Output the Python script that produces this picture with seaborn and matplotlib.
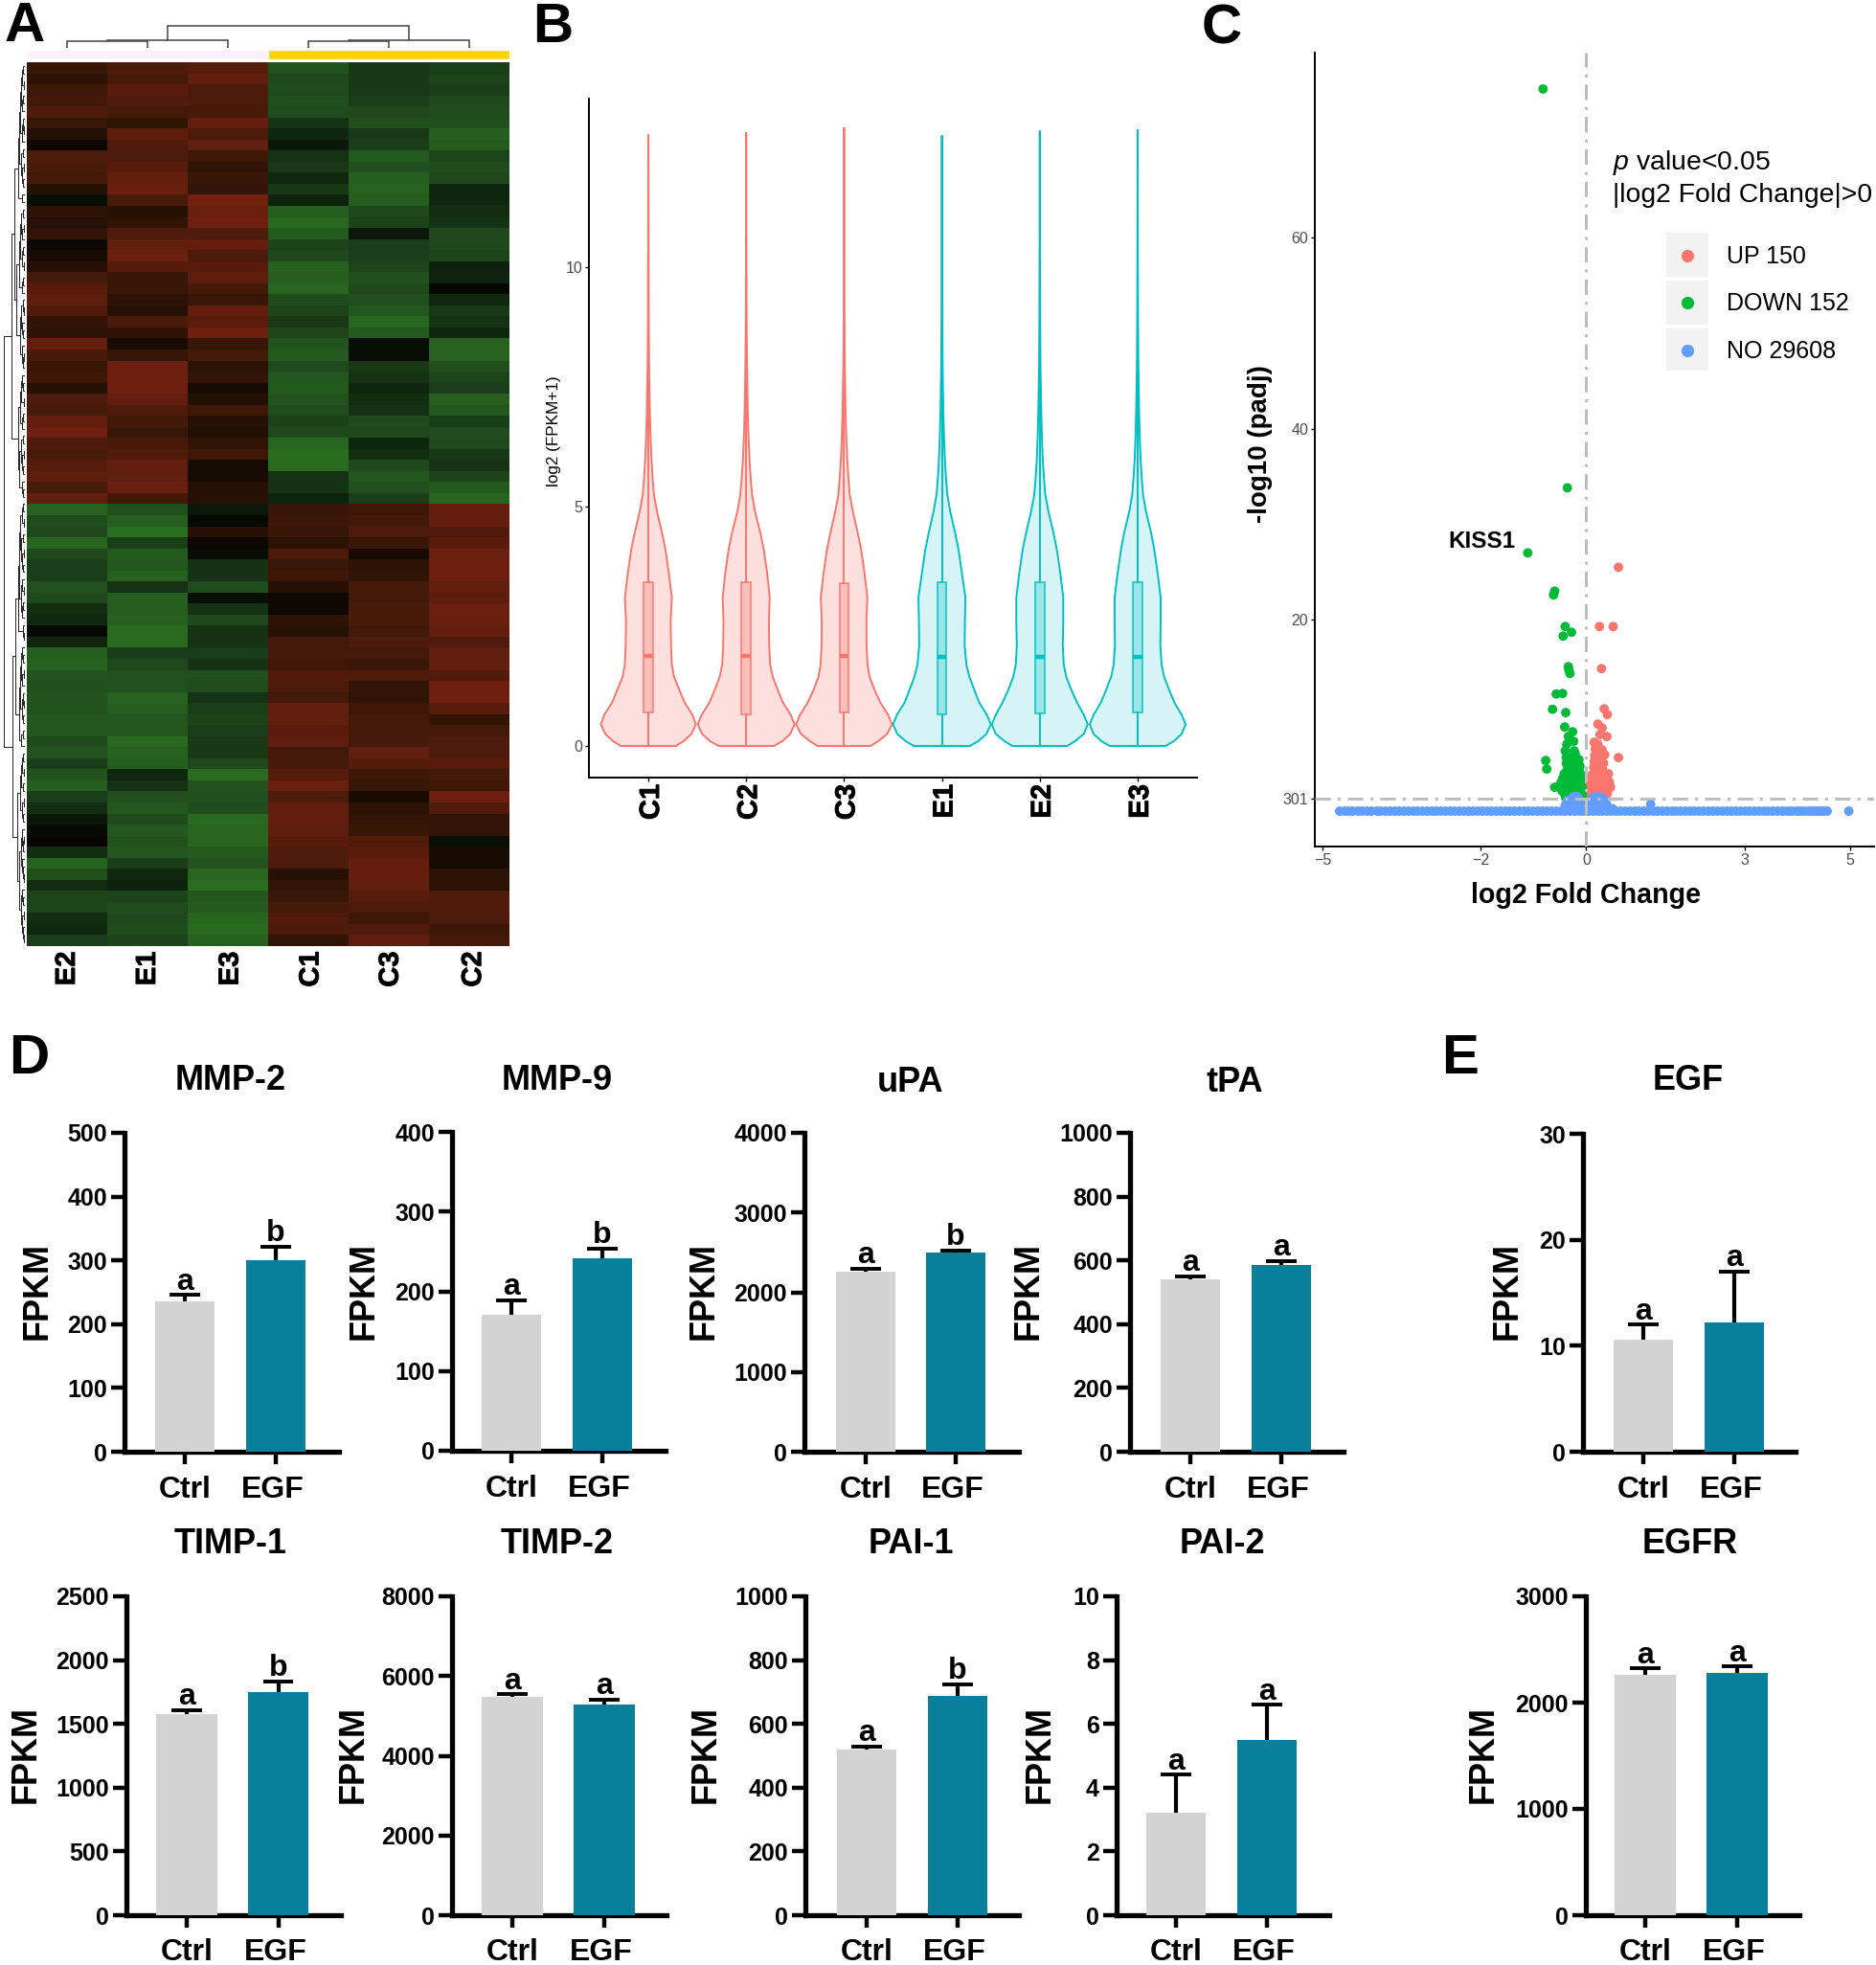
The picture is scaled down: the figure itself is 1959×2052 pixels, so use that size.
import numpy as np
import pandas as pd
import matplotlib
matplotlib.use("Agg")
import matplotlib.pyplot as plt
import matplotlib.patheffects as pe
from matplotlib.colors import LinearSegmentedColormap
from matplotlib.patches import Rectangle
from matplotlib.transforms import ScaledTranslation
import seaborn as sns

sns.set_style("ticks")
plt.rcParams['font.family'] = ['Liberation Sans', 'DejaVu Sans']
plt.rcParams['mathtext.fontset'] = 'custom'
plt.rcParams['mathtext.it'] = 'Liberation Sans:italic'
plt.rcParams['mathtext.rm'] = 'Liberation Sans'
plt.rcParams['text.color'] = 'black'
plt.rcParams['xtick.color'] = 'black'
plt.rcParams['ytick.color'] = 'black'
plt.rcParams['axes.labelcolor'] = 'black'

W, H = 1959, 2052

# ---------- Panel A data (red = up, green = down) ----------
heat_E2 = [.35,.25,.4,.45,.6,.35,.2,.05,.55,.5,.45,.2,-.05,.25,.2,.3,.05,.1,.2,.45,.7,.75,.6,.3,.25,.85,.5,.35,.4,.2,.55,.5,.8,.95,.55,.5,.65,.75,.5,.8,
           -.85,-.55,-.5,-.9,-.5,-.4,-.4,-.6,-.5,-.25,-.2,-.03,-.2,-.8,-.85,-.65,-.6,-.65,-.65,-.7,-.7,-.55,-.65,-.4,-.65,-.8,-.4,-.25,-.1,-.03,.02,-.25,-.85,-.6,-.25,-.45,-.45,-.25,-.2,-.4]
heat_E1 = [.55,.5,.7,.6,.45,.3,.75,.6,.55,.7,.8,.9,.5,.2,.3,.6,.8,.9,.65,.35,.35,.25,.2,.5,.25,.1,.35,.95,.95,.95,.8,.6,.45,.35,.5,.6,.8,.8,.9,.45,
           -.6,-.8,-1.0,-.4,-.75,-.7,-.85,-.3,-.8,-.8,-.85,-.95,-.95,-.4,-.5,-.6,-.6,-.85,-.8,-.7,-.7,-.95,-.85,-.8,-.2,-.3,-.6,-.7,-.55,-.7,-.65,-.7,-.4,-.2,-.15,-.45,-.55,-.5,-.55,-.45]
heat_E3 = [.65,.8,.55,.55,.5,.85,.55,.8,.4,.3,.35,.3,1.0,.9,.95,.55,.85,.55,.7,.75,.45,.35,.85,.7,.95,.35,.45,.25,.3,.1,.15,.4,.2,.15,.3,.4,.1,.1,.2,.2,
           -.1,-.03,.2,.05,-.05,-.3,-.3,-.55,-.05,-.3,-.5,-.3,-.3,-.4,-.3,-.6,-.55,-.3,-.4,-.45,-.4,-.35,-.35,-.5,-.95,-.65,-.6,-.55,-.95,-.9,-.9,-.75,-.65,-.9,-1.0,-.7,-.75,-.9,-.95,-.85]
heat_C1 = [-.65,-.5,-.55,-.6,-.55,-.3,-.2,-.1,-.3,-.35,-.2,-.35,-.15,-.8,-.95,-.75,-.45,-.5,-.85,-.8,-.9,-.55,-.45,-.35,-.45,-.65,-.75,-.5,-.7,-.75,-.65,-.55,-.45,-.5,-.9,-1.0,-.95,-.3,-.3,-.15,
           .35,.4,.35,.25,.55,.35,.4,.2,.05,.05,.25,.2,.45,.45,.4,.6,.55,.45,.8,.8,.7,.75,.45,.5,.65,.9,.55,.8,.85,.75,.7,.6,.55,.2,.3,.35,.5,.6,.55,.3]
heat_C3 = [-.35,-.35,-.35,-.4,-.5,-.6,-.35,-.4,-.75,-.6,-.8,-.85,-.8,-.5,-.45,-.1,-.4,-.4,-.45,-.6,-.5,-.6,-.7,-.9,-.75,-.05,-.05,-.35,-.3,-.2,-.25,-.3,-.55,-.5,-.2,-.25,-.5,-.7,-.6,-.4,
           .4,.45,.55,.35,.1,.25,.3,.45,.45,.5,.5,.45,.55,.45,.35,.6,.3,.3,.4,.45,.45,.45,.8,.65,.4,.35,.1,.25,.3,.35,.6,.7,.85,.85,.8,.7,.55,.4,.6,.75]
heat_C2 = [-.4,-.45,-.4,-.5,-.55,-.6,-.8,-.75,-.45,-.55,-.5,-.2,-.2,-.25,-.3,-.5,-.5,-.45,-.15,-.15,-.02,-.2,-.35,-.3,-.2,-.85,-.85,-.6,-.45,-.4,-.8,-.7,-.4,-.55,-.5,-.35,-.3,-.45,-.75,-.9,
           .85,.85,.6,.7,.9,.95,.95,.8,.75,.9,.9,.85,.55,.8,.8,.6,.95,.95,.7,.3,.45,.55,.55,.7,.45,.4,.95,.6,.3,.3,-.05,.1,.1,.25,.25,.6,.6,.55,.4,.45]
heat_cols = ["E2", "E1", "E3", "C1", "C3", "C2"]
# merge heights between neighbouring row leaves, read from the left-hand tree
row_gaps = [2,3,1,4,2,3,5,2,1,3,6,2,4,1,3,2,7,3,11,2,4,1,3,5,2,3,1,6,2,3,9,2,1,4,3,2,5,3,1,2,14,
            3,2,4,1,5,2,3,7,2,4,1,3,2,6,3,2,
            22.5,
            2,3,1,5,2,4,1,3,2,6,3,1,4,2,3,7,2,1,10,3,2,4,1,3,5,2,1,3,2,6,2,4,13,
            2,3,1,4,2,5,1,3,2,8,3,1,2,4,3,2,1,6,3,2,4,1,3,2,1]
col_merge_heights = [7, 8.3, 7, 7.7, 23]

# ---------- Panel B data ----------
violin_names = ["C1", "C2", "C3", "E1", "E2", "E3"]
violin_y = [0,.1,.25,.45,.65,.91,1.18,1.45,1.7,2.1,2.6,3.1,3.6,4.1,4.45,4.9,5.25,5.58,6,6.5,7,8,9,10.5]
violin_top = [12.75, 12.8, 12.9, 12.74, 12.84, 12.86]
width_C1 = [.28,.36,.44,.485,.45,.37,.315,.262,.24,.232,.228,.24,.21,.175,.14,.088,.057,.044,.032,.022,.015,.007,.004,.002]
width_C2 = [.28,.37,.45,.495,.455,.375,.32,.27,.245,.235,.232,.24,.215,.18,.145,.09,.06,.046,.033,.023,.016,.008,.004,.002]
width_C3 = [.27,.35,.44,.49,.45,.37,.31,.26,.24,.23,.228,.238,.21,.175,.14,.09,.058,.045,.032,.022,.015,.007,.004,.002]
width_E1 = [.285,.37,.455,.50,.46,.38,.33,.28,.25,.232,.235,.24,.205,.17,.135,.085,.055,.042,.03,.021,.014,.007,.004,.002]
width_E2 = [.28,.36,.45,.49,.45,.38,.32,.27,.245,.235,.24,.24,.21,.175,.14,.088,.056,.043,.03,.021,.015,.007,.004,.002]
width_E3 = [.285,.37,.45,.49,.45,.375,.32,.27,.245,.232,.235,.235,.205,.17,.138,.085,.055,.043,.03,.021,.015,.007,.004,.002]
box_q1 = [.69, .66, .69, .66, .68, .69]
box_med = [1.88, 1.87, 1.87, 1.85, 1.85, 1.85]
box_q3 = [3.41, 3.41, 3.40, 3.42, 3.42, 3.42]

# ---------- Panel C data ----------
down_x = [-0.82,-0.36,-1.11,-0.60,-0.62,-0.40,-0.28,-0.44,-0.34,-0.33,-0.31,-0.57,-0.45,-0.64,-0.39,-0.41,-0.26,-0.34,-0.24,-0.37,-0.40,-0.23,-0.21,-0.38,-0.77,-0.75,-0.60,
          -0.30,-0.25,-0.18,-0.14,
          -0.38,-0.33,-0.27,-0.20,-0.15,-0.12,
          -0.36,-0.31,-0.24,-0.19,-0.13,
          -0.42,-0.37,-0.29,-0.22,-0.17,-0.10,
          -0.45,-0.40,-0.34,-0.26,-0.20,-0.14,-0.09,
          -0.48,-0.42,-0.35,-0.28,-0.21,-0.16,-0.11,
          -0.50,-0.44,-0.37,-0.30,-0.23,-0.17,-0.12,-0.08,
          -0.46,-0.39,-0.32,-0.25,-0.18,-0.13,-0.09,
          -0.40,-0.33,-0.26,-0.19,-0.12,-0.07,
          -0.39,-0.30,-0.22,-0.15,-0.09]
down_y = [75.5,33.8,27.0,23.0,22.6,19.3,18.7,18.3,15.1,14.76,14.4,12.25,12.3,10.65,10.3,8.8,8.3,7.8,7.3,7.0,6.3,6.3,6.0,5.6,5.3,4.4,2.5,
          5.6,5.5,5.3,5.4,
          5.0,4.9,5.1,4.8,5.0,4.7,
          4.4,4.5,4.3,4.4,4.2,
          3.9,4.0,3.8,3.9,3.7,3.8,
          3.4,3.5,3.3,3.4,3.5,3.3,3.4,
          3.0,2.9,3.0,2.8,3.0,2.9,2.8,
          2.5,2.6,2.4,2.6,2.5,2.4,2.6,2.5,
          2.1,2.0,2.2,2.1,2.0,2.1,1.9,
          1.7,1.6,1.8,1.7,1.6,1.7,
          1.4,1.4,1.4,1.4,1.4]
up_x = [0.61,0.25,0.51,0.29,0.34,0.40,0.22,0.30,0.39,0.26,0.15,0.22,0.61,
        0.17,0.24,0.30,
        0.16,0.21,0.28,0.35,
        0.15,0.20,0.27,0.33,
        0.14,0.19,0.25,0.31,
        0.11,0.17,0.23,0.30,0.38,0.42,
        0.07,0.13,0.20,0.27,0.34,0.41,0.44,
        0.05,0.10,0.16,0.23,0.29,0.36,0.43,0.46,
        0.04,0.09,0.15,0.21,0.28,0.34,0.40,
        0.06,0.12,0.19,0.26,0.33,0.38]
up_y = [25.5,19.3,19.3,14.9,10.7,10.1,9.1,8.7,7.8,8.0,7.2,7.0,5.6,
        6.5,6.3,6.4,
        5.8,5.6,5.7,5.9,
        5.2,5.1,5.3,5.0,
        4.6,4.5,4.7,4.4,
        3.8,3.7,3.9,3.8,3.7,3.9,
        3.2,3.3,3.2,3.1,3.3,3.2,3.0,
        2.6,2.7,2.6,2.5,2.7,2.6,2.7,2.5,
        2.0,2.1,2.0,2.2,2.0,2.1,1.9,
        1.5,1.6,1.5,1.6,1.5,1.5]
no_x = [-4.68,-4.59,-4.52,-4.44,-4.33,-4.25,-4.16,-4.08,-3.97,-3.9,-3.81,-3.72,-3.63,-3.55,-3.46,-3.37,-3.28,-3.2,-3.11,-3.02,
        -2.93,-2.85,-2.76,-2.67,-2.58,-2.5,-2.41,-2.32,-2.23,-2.15,-2.06,-1.97,-1.88,-1.8,-1.71,-1.62,-1.53,-1.45,-1.36,-1.27,
        -1.18,-1.1,-1.01,-.92,-.83,-.75,-.66,-.57,-.48,-.4,-.31,-.22,-.13,-.05,.04,.13,.22,.3,.39,.48,.57,.65,.74,.83,.92,1.0,
        1.09,1.18,1.27,1.35,1.44,1.53,1.62,1.7,1.79,1.88,1.97,2.05,2.14,2.23,2.32,2.4,2.49,2.58,2.67,2.75,2.84,2.93,3.02,3.1,
        3.19,3.28,3.37,3.45,3.54,3.63,3.72,3.8,3.86,3.91,4.0,4.06,4.13,4.21,4.27,4.33,4.38,4.42,4.46,4.51,4.57,4.98]
no_y = [0.0] * len(no_x)
cluster_x = [-.40,-.34,-.28,-.22,-.16,-.10,-.37,-.3,-.24,-.18,-.12,-.33,-.27,-.2,-.14,.06,.12,.18,.24,.3,.36,.09,.15,.21,.27,.33,.12,.18,.24,.3,1.22,.5,
             -.36,-.31,-.26,-.2,-.15,-.25,-.19,.1,.16,.21,.27,.33,.38]
cluster_y = [.6,.9,1.0,1.3,1.2,.9,.3,.4,.6,.7,.4,.1,.2,.3,.1,1.0,1.3,1.25,1.2,.9,.4,.6,.7,.8,.6,.2,.2,.3,.2,.1,.73,.25,
             1.1,1.2,1.35,1.5,1.4,1.5,1.55,1.3,1.45,1.5,1.45,1.25,.8]

# ---------- Panels D/E data ----------
genes = ["MMP-2", "MMP-9", "uPA", "tPA", "TIMP-1", "TIMP-2", "PAI-1", "PAI-2", "EGF", "EGFR"]
groups = ["Ctrl", "EGF"]
ctrl_means = [235, 171, 2260, 540, 1580, 5480, 520, 3.2, 10.6, 2265]
egf_means = [301, 241, 2500, 586, 1750, 5290, 687, 5.5, 12.2, 2280]
ctrl_tops = [246, 189, 2295, 550, 1610, 5540, 530, 4.4, 12.0, 2320]
egf_tops = [322, 254, 2525, 598, 1835, 5410, 725, 6.6, 17.0, 2340]
y_maxes = [500, 400, 4000, 1000, 2500, 8000, 1000, 10, 30, 3000]
y_steps = [100, 100, 1000, 200, 500, 2000, 200, 2, 10, 1000]
ctrl_letters = ["a", "a", "a", "a", "a", "a", "a", "a", "a", "a"]
egf_letters = ["b", "b", "b", "a", "b", "a", "b", "a", "a", "a"]

# ---------- layout (pixels) ----------
fig = plt.figure(figsize=(W / 100, H / 100), dpi=100, facecolor="white")
px = fig.dpi_scale_trans


def axpx(l, t, r, b):
    return fig.add_axes([l / W, 1 - b / H, (r - l) / W, (b - t) / H])


def shift_label(lab, dx):
    lab.set_transform(lab.get_transform() + ScaledTranslation(dx / 100, 0, px))


heavy = [pe.withStroke(linewidth=0.6, foreground="black")]

# Panel A --------------------------------------------------
heat_map = LinearSegmentedColormap.from_list(
    "gbr", [(0, "#2A6C20"), (0.25, "#1F481D"), (0.425, "#0E220D"), (0.5, "#050302"),
            (0.575, "#221005"), (0.75, "#481A0A"), (1, "#722010")])
heat_df = pd.DataFrame({"E2": heat_E2, "E1": heat_E1, "E3": heat_E3,
                        "C1": heat_C1, "C3": heat_C3, "C2": heat_C2})[heat_cols]
axA = axpx(28, 65, 532, 988)
sns.heatmap(heat_df, ax=axA, cmap=heat_map, vmin=-1, vmax=1, cbar=False,
            yticklabels=False, xticklabels=True)
axA.set_xticks([.5, 1.5, 2.53, 3.53, 4.52, 5.55])
axA.set_xticklabels(heat_cols, rotation=90, fontweight="bold", fontsize=21)
axA.tick_params(axis="x", length=0, pad=4)
for t in axA.get_xticklabels():
    t.set_path_effects(heavy)
axA.set_xlabel("")
axA.set_ylabel("")

axStrip = axpx(28, 52, 532, 62)
axStrip.axis("off")
axStrip.set_xlim(0, 6)
axStrip.set_ylim(0, 1)
axStrip.barh([0.5], [3], left=[0], height=1, color="#FDF0FB")
axStrip.barh([0.5], [3], left=[3], height=1, color="#FFD300")

axCD = axpx(28, 20, 532, 50)
axCD.axis("off")
axCD.set_xlim(0, 6)
axCD.set_ylim(0, 30)


def col_link(x0, h0, x1, h1, h):
    axCD.plot([x0, x0, x1, x1], [h0, h, h, h1], color="#444444", lw=1.1, solid_joinstyle="miter")
    return (x0 + x1) / 2


m1 = col_link(0.5, 0, 1.5, 0, col_merge_heights[0])
m2 = col_link(m1, col_merge_heights[0], 2.5, 0, col_merge_heights[1])
m3 = col_link(3.5, 0, 4.5, 0, col_merge_heights[2])
m4 = col_link(m3, col_merge_heights[2], 5.5, 0, col_merge_heights[3])
col_link(m2, col_merge_heights[1], m4, col_merge_heights[3], col_merge_heights[4])

axRD = axpx(0, 65, 26, 988)
axRD.axis("off")
axRD.set_xlim(26, 0)
axRD.set_ylim(len(row_gaps) + 1, 0)


def row_link(lo, hi):
    if lo == hi:
        return lo + 0.5, 0.0
    k = lo + int(np.argmax(row_gaps[lo:hi]))
    y0, h0 = row_link(lo, k)
    y1, h1 = row_link(k + 1, hi)
    h = row_gaps[k]
    axRD.plot([h0, h, h, h1], [y0, y0, y1, y1], color="#222222", lw=0.7)
    return (y0 + y1) / 2, h


row_link(0, len(row_gaps))

# Panel B --------------------------------------------------
axB = axpx(615, 103, 1250, 812)
violin_widths = [width_C1, width_C2, width_C3, width_E1, width_E2, width_E3]
for i, name in enumerate(violin_names):
    is_c = name.startswith("C")
    col = "#F8766D" if is_c else "#00BFC4"
    ys = np.array(violin_y + [violin_top[i]])
    ws = np.array(violin_widths[i] + [0.0008])
    axB.fill_betweenx(ys, i - ws, i + ws, color=col, alpha=0.22 if is_c else 0.16, lw=0)
    xs = np.r_[i - ws[::-1], i + ws]
    axB.plot(xs, np.r_[ys[::-1], ys], color=col, lw=1.4, solid_joinstyle="round")
    axB.plot([i - ws[0], i + ws[0]], [0, 0], color=col, lw=1.4)
    axB.plot([i, i], [0, box_q1[i]], color=col, lw=1.4)
    axB.plot([i, i], [box_q3[i], violin_top[i]], color=col, lw=1.4)
    axB.bar([i], [box_q3[i] - box_q1[i]], bottom=[box_q1[i]], width=0.096,
            color=col, alpha=0.3 if is_c else 0.28, lw=0, zorder=3)
    axB.bar([i], [box_q3[i] - box_q1[i]], bottom=[box_q1[i]], width=0.096,
            facecolor="none", edgecolor=col, lw=1.3, alpha=0.8, zorder=4)
    axB.plot([i - 0.048, i + 0.048], [box_med[i]] * 2, color=col, lw=3.2,
             solid_capstyle="butt", zorder=4)
axB.set_xlim(-0.607, 5.607)
axB.set_ylim(-0.66, 13.52)
axB.set_xticks(range(6))
axB.set_xticklabels(violin_names, rotation=90, fontweight="bold", fontsize=21, color="black")
axB.set_yticks([0, 5, 10])
axB.tick_params(axis="y", labelsize=11.5, labelcolor="#4D4D4D", length=3, width=1, pad=2)
axB.tick_params(axis="x", length=3, width=1, pad=2)
for t in axB.get_xticklabels():
    t.set_path_effects(heavy)
    shift_label(t, 3)
for s in ["left", "bottom"]:
    axB.spines[s].set_linewidth(1.4)
    axB.spines[s].set_color("black")
sns.despine(ax=axB)

# Panel C --------------------------------------------------
axC = axpx(1373, 55, 1957, 884)
volcano = pd.DataFrame({
    "log2fc": up_x + down_x + no_x + cluster_x,
    "padj": up_y + down_y + no_y + cluster_y,
    "group": ["UP"] * len(up_x) + ["DOWN"] * len(down_x) + ["NO"] * (len(no_x) + len(cluster_x)),
})
volcano_palette = {"UP": "#F8766D", "DOWN": "#00BA38", "NO": "#619CFF"}
sns.scatterplot(data=volcano, x="log2fc", y="padj", hue="group", palette=volcano_palette,
                ax=axC, s=50, linewidth=0, legend=False, clip_on=False)
dash = (0, (5.3, 2.4, 1, 2.4))
axC.axhline(1.301, color="#BEBEBE", lw=2.2, ls=dash, zorder=5)
axC.axvline(0, color="#BEBEBE", lw=2.2, ls=dash, zorder=5)
axC.set_xlim(-5.15, 5.46)
axC.set_ylim(-3.7, 79.3)
axC.set_xticks([-5, -2, 0, 3, 5])
axC.set_yticks([1.301, 20, 40, 60])
axC.set_yticklabels(["301", "20", "40", "60"])
axC.tick_params(labelsize=11.5, labelcolor="#4D4D4D", length=3, width=1, pad=2)
axC.set_xlabel("")
axC.set_ylabel("")
for s in ["left", "bottom"]:
    axC.spines[s].set_linewidth(1.4)
    axC.spines[s].set_color("black")
sns.despine(ax=axC)

# Panels D / E ---------------------------------------------
# left spine, right end, top, bottom, two category centres
bar_layout = [
    (130, 354, 1183, 1516, 193, 288),
    (472, 695, 1182, 1515, 534, 629),
    (840, 1064, 1183, 1516, 904, 998),
    (1180, 1403, 1183, 1516, 1243, 1338),
    (132, 356, 1667, 2000, 195, 290.5),
    (472, 696, 1667, 2000, 535, 631),
    (841, 1064, 1667, 2000, 905, 1000),
    (1166, 1388, 1667, 2000, 1228, 1323),
    (1653, 1875, 1184, 1516, 1716, 1811),
    (1656, 1879, 1667, 2000, 1718, 1814),
]
for i, gene in enumerate(genes):
    l, r, t, b, c0, c1 = bar_layout[i]
    ax = axpx(l, t, r, b)
    df = pd.DataFrame({"group": groups, "fpkm": [ctrl_means[i], egf_means[i]]})
    sns.barplot(data=df, x="group", y="fpkm", hue="group", order=groups, hue_order=groups,
                palette={"Ctrl": "#D3D3D3", "EGF": "#087F9B"}, width=0.66, errorbar=None,
                legend=False, ax=ax, zorder=3, saturation=1, linewidth=0)
    tops = [ctrl_tops[i], egf_tops[i]]
    means = [ctrl_means[i], egf_means[i]]
    ax.vlines([0, 1], means, tops, color="black", lw=3, zorder=2)
    ax.hlines(tops, [-0.165, 0.835], [0.165, 1.165], color="black", lw=2.8, zorder=2)
    s = c1 - c0
    ax.set_xlim((l - c0) / s, (r - c0) / s)
    ax.set_ylim(0, y_maxes[i])
    ax.set_yticks(np.arange(0, y_maxes[i] + y_steps[i] * 0.5, y_steps[i]))
    ax.set_xticks([0, 1])
    ax.set_xticklabels(groups)
    ax.set_xlabel("")
    ax.set_ylabel("")
    ax.patch.set_alpha(0)
    for sp in ["left", "bottom"]:
        ax.spines[sp].set_linewidth(3.8)
        ax.spines[sp].set_color("black")
    sns.despine(ax=ax)
    ax.tick_params(axis="y", length=10, width=3.2, labelsize=18, pad=3, color="black")
    ax.tick_params(axis="x", length=9, width=3.2, labelsize=23, pad=9 if i < 4 or i == 8 else 8, color="black")
    for lab in ax.get_xticklabels() + ax.get_yticklabels():
        lab.set_fontweight("bold")
    shift_label(ax.get_xticklabels()[1], -3)
    for x, top, letter in zip([0, 1], tops, [ctrl_letters[i], egf_letters[i]]):
        ax.annotate(letter, (x, top), xytext=(0, 4), textcoords="offset points", ha="center",
                    va="baseline", fontsize=23, fontweight="bold", annotation_clip=False)

# Text overlay ---------------------------------------------
ov = fig.add_axes([0, 0, 1, 1])
ov.set_xlim(0, W)
ov.set_ylim(H, 0)
ov.axis("off")
ov.patch.set_alpha(0)


def txt(x, y, s, size, bold=True, rot=0, color="black", ha="center"):
    ov.text(x, y, s, fontsize=size, fontweight="bold" if bold else "normal", rotation=rot,
            ha=ha, va="center", color=color)


for letter, x, y in [("A", 26, 28), ("B", 577, 29), ("C", 1276, 31), ("D", 30, 1106), ("E", 1525, 1106)]:
    txt(x, y, letter, 42)

title_pos = [(241, 1129), (582, 1128), (951, 1130), (1289, 1130), (241, 1613), (582, 1613),
             (951, 1613), (1276, 1613), (1763, 1129), (1765, 1613)]
for gene, (x, y) in zip(genes, title_pos):
    txt(x, y, gene, 26)
fpkm_pos = [(39, 1348), (380, 1348), (735, 1348), (1074, 1348), (27, 1832), (369, 1832),
            (737, 1832), (1086, 1832), (1574, 1348), (1549, 1832)]
for x, y in fpkm_pos:
    txt(x, y, "FPKM", 26, rot=90)

txt(578, 450, "log2 (FPKM+1)", 12.3, bold=False, rot=90)
txt(1656, 935, "log2 Fold Change", 20.6)
txt(1316, 464, "-log10 (padj)", 20, rot=90)
txt(1547, 566, "KISS1", 17.5)
txt(1684, 170, r"$\mathit{p}$ value<0.05", 20.4, bold=False, ha="left")
txt(1684, 204, "|log2 Fold Change|>0", 20.4, bold=False, ha="left")
legend_rows = [("UP 150", "#F8766D", 243, 289, 267), ("DOWN 152", "#00BA38", 293, 339, 316),
               ("NO 29608", "#619CFF", 343, 387, 366)]
for label, col, y0, y1, yc in legend_rows:
    ov.add_patch(Rectangle((1739.5, y0), 44.5, y1 - y0, facecolor="#F2F2F2", edgecolor="none"))
    ov.plot([1762], [yc], "o", color=col, ms=9.5, mew=0)
    txt(1803, yc + 1, label, 18, bold=False, ha="left")

fig.savefig("out.png", dpi=100, facecolor="white")
